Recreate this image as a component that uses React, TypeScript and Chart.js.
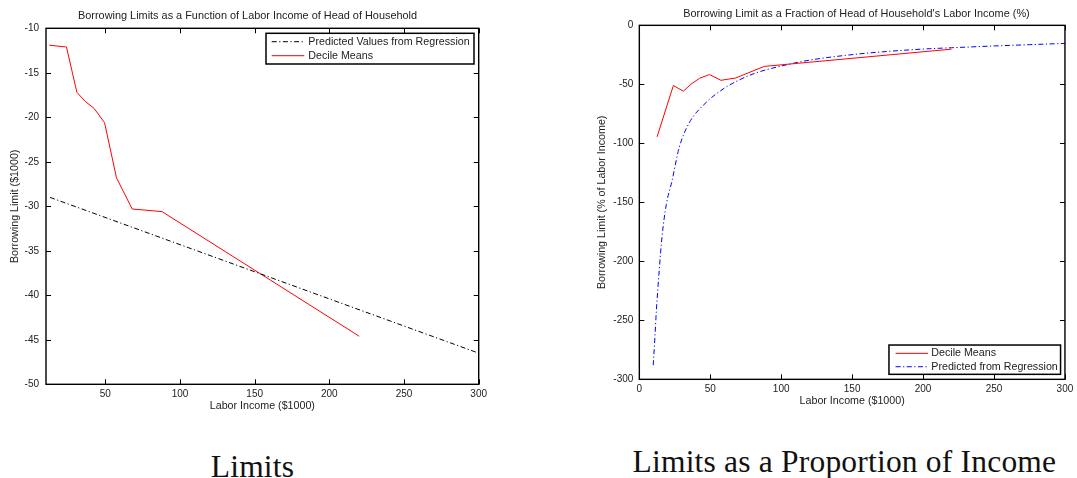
import React, { useEffect, useRef } from "react";
import { Chart, registerables } from "chart.js";

Chart.register(...registerables);

// ---------- data ----------
const decileIncome = [12.5, 24, 31, 36.5, 42.5, 49.5, 57.5, 68, 88, 220];
const decileLimit = [-11.9, -12.1, -17.2, -18.2, -19.0, -20.6, -26.8, -30.3, -30.6, -44.6];
const decilePct = [-94.5, -51, -55.8, -49.8, -44.8, -41.7, -46.6, -44.6, -34.8, -20.2];

const regIncome = [13, 300];
const regLimit = [-29.0, -46.5];

const regPctIncome = [9.8, 11, 12, 14, 16, 19, 23, 28, 35, 47, 59, 70, 83, 100, 120, 145, 170, 200, 220, 250, 275, 300];
const regPct = [-288, -264, -242, -208, -179, -152, -132, -104, -83, -65.5, -54, -46.5, -40, -34.5, -29.5, -25.5, -22.6, -20.1, -19, -17.5, -16.4, -15.3];

const leftXTicks = [50, 100, 150, 200, 250, 300];
const leftYTicks = [-50, -45, -40, -35, -30, -25, -20, -15, -10];
const rightXTicks = [0, 50, 100, 150, 200, 250, 300];
const rightYTicks = [-300, -250, -200, -150, -100, -50, 0];

const TEXT = "#222";
const FONT = "'Liberation Sans', Arial, Helvetica, sans-serif";

// ---------- plugins ----------
const framePlugin = {
  id: "frame",
  afterDatasetsDraw(chart: any) {
    const { ctx, chartArea, scales } = chart;
    const { left, right, top, bottom } = chartArea;
    ctx.save();
    ctx.setLineDash([]);
    ctx.strokeStyle = "#000";
    ctx.lineWidth = 1;
    const L = 5;
    ctx.beginPath();
    scales.x.ticks.forEach((t: any) => {
      const p = Math.round(scales.x.getPixelForValue(t.value)) + 0.5;
      ctx.moveTo(p, bottom);
      ctx.lineTo(p, bottom - L);
      ctx.moveTo(p, top);
      ctx.lineTo(p, top + L);
    });
    scales.y.ticks.forEach((t: any) => {
      const p = Math.round(scales.y.getPixelForValue(t.value)) + 0.5;
      ctx.moveTo(left, p);
      ctx.lineTo(left + L, p);
      ctx.moveTo(right, p);
      ctx.lineTo(right - L, p);
    });
    ctx.stroke();
    ctx.lineWidth = 1.4;
    ctx.strokeRect(left, top, right - left, bottom - top);
    ctx.restore();
  },
};

const boxLegendPlugin = {
  id: "boxLegend",
  afterDraw(chart: any, _args: any, o: any) {
    const { ctx, chartArea } = chart;
    const x = chartArea.right - o.insetX - o.width;
    const y = o.corner === "top" ? chartArea.top + o.insetY : chartArea.bottom - o.insetY - o.height;
    ctx.save();
    ctx.fillStyle = "#fff";
    ctx.fillRect(x, y, o.width, o.height);
    ctx.setLineDash([]);
    ctx.strokeStyle = "#000";
    ctx.lineWidth = 1.5;
    ctx.strokeRect(x, y, o.width, o.height);
    chart.data.datasets.forEach((ds: any, i: number) => {
      const ry = y + o.rows[i];
      ctx.beginPath();
      ctx.setLineDash(ds.borderDash || []);
      ctx.strokeStyle = ds.borderColor;
      ctx.lineWidth = 1;
      ctx.moveTo(x + o.padL, ry);
      ctx.lineTo(x + o.padL + o.sample, ry);
      ctx.stroke();
      ctx.setLineDash([]);
      ctx.fillStyle = TEXT;
      ctx.font = `${o.fontSize}px ${FONT}`;
      ctx.textBaseline = "middle";
      ctx.textAlign = "left";
      ctx.fillText(ds.label, x + o.padL + o.sample + o.gap, ry);
    });
    ctx.restore();
  },
};

const headPlugin = {
  id: "head",
  afterDraw(chart: any, _args: any, o: any) {
    const { ctx, chartArea } = chart;
    ctx.save();
    ctx.fillStyle = TEXT;
    ctx.font = `${o.fontSize}px ${FONT}`;
    ctx.textAlign = "center";
    ctx.textBaseline = "middle";
    ctx.fillText(o.text, (chartArea.left + chartArea.right) / 2 + o.dx, o.y);
    ctx.restore();
  },
};

function makeConfig(p: any) {
  return {
    type: "line",
    data: { datasets: p.datasets },
    plugins: [framePlugin, boxLegendPlugin, headPlugin],
    options: {
      responsive: false,
      animation: false,
      layout: { padding: { left: 0, right: p.padRight, top: p.padTop, bottom: 0 } },
      plugins: {
        legend: { display: false },
        tooltip: { enabled: false },
        title: { display: false },
        head: p.head,
        boxLegend: p.legend,
      },
      elements: { point: { radius: 0 } },
      scales: {
        x: {
          type: "linear",
          min: p.xMin,
          max: p.xMax,
          afterBuildTicks: (s: any) => {
            s.ticks = p.xTicks.map((v: number) => ({ value: v }));
          },
          afterFit: (s: any) => {
            s.height = p.xHeight;
          },
          grid: { display: false, drawTicks: false },
          border: { display: false },
          ticks: {
            color: TEXT,
            font: { family: FONT, size: 10 },
            padding: p.xTickPad,
            maxRotation: 0,
            autoSkip: false,
          },
          title: {
            display: true,
            text: "Labor Income ($1000)",
            color: TEXT,
            font: { family: FONT, size: 10.7 },
            padding: { top: 0, bottom: p.xTitlePad },
          },
        },
        y: {
          type: "linear",
          min: p.yMin,
          max: p.yMax,
          afterBuildTicks: (s: any) => {
            s.ticks = p.yTicks.map((v: number) => ({ value: v }));
          },
          afterFit: (s: any) => {
            s.width = p.yWidth;
          },
          grid: { display: false, drawTicks: false },
          border: { display: false },
          ticks: {
            color: TEXT,
            font: { family: FONT, size: 10 },
            padding: p.yTickPad,
            autoSkip: false,
          },
          title: {
            display: true,
            text: p.yTitle,
            color: TEXT,
            font: { family: FONT, size: 10.7 },
            padding: { top: p.yTitlePad, bottom: 0 },
          },
        },
      },
    },
  };
}

function ChartCanvas({ config, width, height, left }: any) {
  const ref = useRef<HTMLCanvasElement | null>(null);
  useEffect(() => {
    if (!ref.current) return;
    const chart = new Chart(ref.current, config);
    return () => chart.destroy();
  }, []);
  return (
    <canvas
      ref={ref}
      width={width}
      height={height}
      style={{ position: "absolute", left, top: 0, width, height, display: "block" }}
    />
  );
}

const dashDot = [5, 2.5, 1.2, 2.5];

const leftConfig = makeConfig({
  datasets: [
    {
      label: "Predicted Values from Regression",
      data: regIncome.map((x, i) => ({ x, y: regLimit[i] })),
      borderColor: "#000000",
      borderWidth: 1,
      borderDash: dashDot,
      fill: false,
    },
    {
      label: "Decile Means",
      data: decileIncome.map((x, i) => ({ x, y: decileLimit[i] })),
      borderColor: "#ff0000",
      borderWidth: 1,
      fill: false,
    },
  ],
  xMin: 10.3,
  xMax: 300,
  yMin: -50,
  yMax: -10,
  xTicks: leftXTicks,
  yTicks: leftYTicks,
  padRight: 495 - 478.7,
  padTop: 28.3,
  xHeight: 430 - 384.3,
  xTickPad: 3.7,
  xTitlePad: 17.3,
  yWidth: 46,
  yTickPad: 7,
  yTitlePad: 8.5,
  yTitle: "Borrowing Limit ($1000)",
  head: { text: "Borrowing Limits as a Function of Labor Income of Head of Household", dx: -14.8, y: 16, fontSize: 10.9 },
  legend: { corner: "top", insetX: 4.7, insetY: 5, width: 208, height: 30.7, padL: 5.7, sample: 32.6, gap: 4, rows: [8.4, 22.4], fontSize: 10.7 },
});

const rightConfig = makeConfig({
  datasets: [
    {
      label: "Decile Means",
      data: decileIncome.map((x, i) => ({ x, y: decilePct[i] })),
      borderColor: "#ff0000",
      borderWidth: 1,
      fill: false,
    },
    {
      label: "Predicted from Regression",
      data: regPctIncome.map((x, i) => ({ x, y: regPct[i] })),
      borderColor: "#0000ff",
      borderWidth: 1,
      borderDash: dashDot,
      cubicInterpolationMode: "monotone",
      fill: false,
    },
  ],
  xMin: 0,
  xMax: 300,
  yMin: -300,
  yMax: 0,
  xTicks: rightXTicks,
  yTicks: rightYTicks,
  padRight: 497 - 487.67,
  padTop: 25.33,
  xHeight: 430 - 379.33,
  xTickPad: 3.7,
  xTitlePad: 22.3,
  yWidth: 59.33,
  yTickPad: 6,
  yTitlePad: 15.5,
  yTitle: "Borrowing Limit (% of Labor Income)",
  head: { text: "Borrowing Limit as a Fraction of Head of Household's Labor Income (%)", dx: 4.3, y: 14, fontSize: 10.9 },
  legend: { corner: "bottom", insetX: 4.4, insetY: 5, width: 171.6, height: 29.3, padL: 6.6, sample: 32.4, gap: 3.3, rows: [8.3, 21.7], fontSize: 10.7 },
});

const captionStyle: React.CSSProperties = {
  position: "absolute",
  fontFamily: "'Liberation Serif', 'Times New Roman', serif",
  fontSize: 31.5,
  lineHeight: "31.5px",
  color: "#111",
  whiteSpace: "nowrap",
  letterSpacing: "0.2px",
  transform: "translateX(-50%)",
};

export default function App() {
  return (
    <div
      style={{
        position: "absolute",
        left: 0,
        top: 0,
        width: 1077,
        height: 478,
        overflow: "hidden",
        background: "#fff",
      }}
    >
      <ChartCanvas config={leftConfig} width={495} height={430} left={0} />
      <ChartCanvas config={rightConfig} width={497} height={430} left={580} />
      <div style={{ ...captionStyle, left: 252.5, top: 450.6 }}>Limits</div>
      <div style={{ ...captionStyle, left: 844.4, top: 446 }}>Limits as a Proportion of Income</div>
    </div>
  );
}
